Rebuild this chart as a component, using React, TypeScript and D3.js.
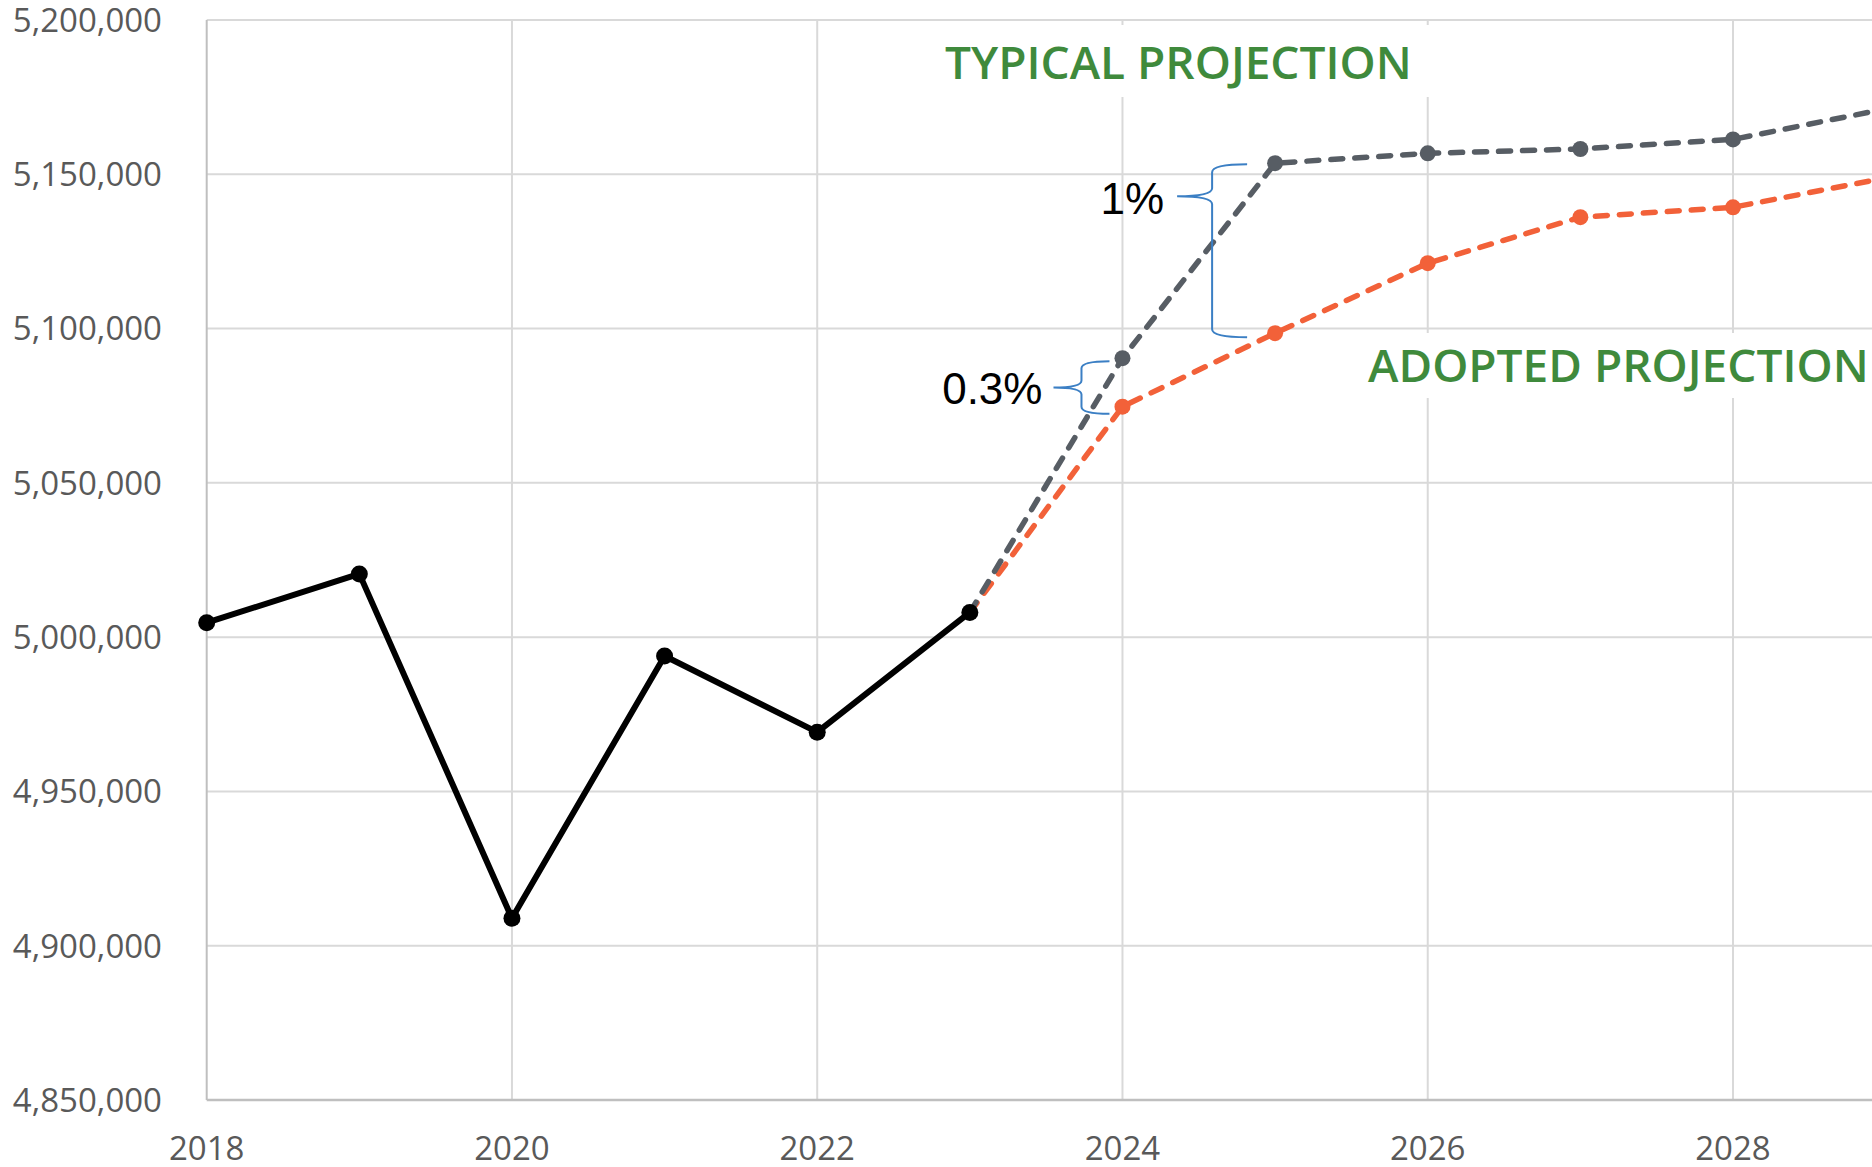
import React, { useEffect, useRef } from "react";
import * as d3 from "d3";

// historical population
const histYears = [2018, 2019, 2020, 2021, 2022, 2023];
const histValues = [5004700, 5020500, 4908900, 4993900, 4969200, 5008000];

// projections start from the last actual value (2023)
const projYears = [2023, 2024, 2025, 2026, 2027, 2028, 2029];
const typicalValues = [5008000, 5090400, 5153600, 5156800, 5158200, 5161300, 5171200];
const adoptedValues = [5008000, 5074700, 5098500, 5121200, 5136100, 5139300, 5148800];

const yTicks = [4850000, 4900000, 4950000, 5000000, 5050000, 5100000, 5150000, 5200000];
const xTicks = [2018, 2020, 2022, 2024, 2026, 2028];

const W = 1872;
const H = 1167;

const App = () => {
  const ref = useRef<SVGSVGElement>(null);

  useEffect(() => {
    const svg = d3.select(ref.current);
    svg.selectAll("*").remove();

    const left = 206.7;
    const top = 20;
    const bottom = 1100;
    const perYear = 152.63;

    const x = d3.scaleLinear().domain([2018, 2029]).range([left, left + 11 * perYear]);
    const y = d3.scaleLinear().domain([4850000, 5200000]).range([bottom, top]);

    const grid = svg.append("g");
    grid
      .selectAll("line.h")
      .data(yTicks.slice(1))
      .enter()
      .append("line")
      .attr("x1", left)
      .attr("x2", W)
      .attr("y1", (d) => y(d))
      .attr("y2", (d) => y(d))
      .attr("stroke", "#d9d9d9")
      .attr("stroke-width", 2);
    grid
      .selectAll("line.v")
      .data(xTicks.slice(1))
      .enter()
      .append("line")
      .attr("x1", (d) => x(d))
      .attr("x2", (d) => x(d))
      .attr("y1", top)
      .attr("y2", bottom)
      .attr("stroke", "#d9d9d9")
      .attr("stroke-width", 2);

    // axis lines
    svg
      .append("line")
      .attr("x1", left)
      .attr("x2", left)
      .attr("y1", top)
      .attr("y2", bottom)
      .attr("stroke", "#bfbfbf")
      .attr("stroke-width", 2);
    svg
      .append("line")
      .attr("x1", left)
      .attr("x2", W)
      .attr("y1", bottom)
      .attr("y2", bottom)
      .attr("stroke", "#bfbfbf")
      .attr("stroke-width", 2.5);

    // tick labels
    const fmt = d3.format(",");
    svg
      .selectAll("text.yl")
      .data(yTicks)
      .enter()
      .append("text")
      .attr("x", 162)
      .attr("y", (d) => y(d))
      .attr("dy", "0.36em")
      .attr("text-anchor", "end")
      .style("font-family", "'Open Sans', sans-serif")
      .style("font-size", "33px")
      .attr("fill", "#595959")
      .text((d) => fmt(d));
    svg
      .selectAll("text.xl")
      .data(xTicks)
      .enter()
      .append("text")
      .attr("x", (d) => x(d))
      .attr("y", 1160)
      .attr("text-anchor", "middle")
      .style("font-family", "'Open Sans', sans-serif")
      .style("font-size", "33px")
      .attr("fill", "#595959")
      .text((d) => d);

    // label backgrounds (hide the gridlines behind the labels)
    svg.append("rect").attr("x", 930).attr("y", 25).attr("width", 502).attr("height", 72).attr("fill", "#fff");
    svg.append("rect").attr("x", 1355).attr("y", 333).attr("width", 530).attr("height", 65).attr("fill", "#fff");

    const line = d3
      .line<number>()
      .x((d, i) => x(projYears[i]))
      .y((d) => y(d));

    const series = [
      { values: adoptedValues, color: "#f26139" },
      { values: typicalValues, color: "#575d64" },
    ];

    series.forEach((s) => {
      svg
        .append("path")
        .attr("d", line(s.values))
        .attr("fill", "none")
        .attr("stroke", s.color)
        .attr("stroke-width", 5.5)
        .attr("stroke-linecap", "round")
        .attr("stroke-dasharray", "12 12");
      svg
        .selectAll(null)
        .data(s.values.slice(1))
        .enter()
        .append("circle")
        .attr("cx", (d, i) => x(projYears[i + 1]))
        .attr("cy", (d) => y(d))
        .attr("r", 8)
        .attr("fill", s.color);
    });

    const histLine = d3
      .line<number>()
      .x((d, i) => x(histYears[i]))
      .y((d) => y(d));
    svg
      .append("path")
      .attr("d", histLine(histValues))
      .attr("fill", "none")
      .attr("stroke", "#000")
      .attr("stroke-width", 6)
      .attr("stroke-linejoin", "round");
    svg
      .selectAll("circle.h")
      .data(histValues)
      .enter()
      .append("circle")
      .attr("cx", (d, i) => x(histYears[i]))
      .attr("cy", (d) => y(d))
      .attr("r", 8.5)
      .attr("fill", "#000");

    // curly braces showing the gap between the projections
    const brace = (xArm: number, xSpine: number, xTip: number, yTop: number, yBot: number, yMid: number, r: number) =>
      `M${xArm},${yTop} Q${xSpine},${yTop} ${xSpine},${yTop + r} ` +
      `L${xSpine},${yMid - r} Q${xSpine},${yMid} ${xTip},${yMid} ` +
      `Q${xSpine},${yMid} ${xSpine},${yMid + r} ` +
      `L${xSpine},${yBot - r} Q${xSpine},${yBot} ${xArm},${yBot}`;

    const idx25 = projYears.indexOf(2025);
    const idx24 = projYears.indexOf(2024);
    const x25 = x(2025);
    const x24 = x(2024);

    // 1% brace: tip sits near the top, next to its label
    const b1Top = y(typicalValues[idx25]) + 1;
    const b1Bot = y(adoptedValues[idx25]) + 4;
    svg
      .append("path")
      .attr("d", brace(x25 - 28, x25 - 63, x25 - 98, b1Top, b1Bot, b1Top + 32, 8))
      .attr("fill", "none")
      .attr("stroke", "#3b7fc4")
      .attr("stroke-width", 2);

    const b2Top = y(typicalValues[idx24]) + 3;
    const b2Bot = y(adoptedValues[idx24]) + 7;
    svg
      .append("path")
      .attr("d", brace(x24 - 13, x24 - 41, x24 - 69, b2Top, b2Bot, (b2Top + b2Bot) / 2, 7))
      .attr("fill", "none")
      .attr("stroke", "#3b7fc4")
      .attr("stroke-width", 2);

    svg
      .append("text")
      .attr("x", x25 - 111)
      .attr("y", 214)
      .attr("text-anchor", "end")
      .style("font-family", "'Liberation Sans', Arial, sans-serif")
      .style("font-size", "44px")
      .attr("fill", "#000")
      .text("1%");
    svg
      .append("text")
      .attr("x", x24 - 80)
      .attr("y", 404)
      .attr("text-anchor", "end")
      .style("font-family", "'Liberation Sans', Arial, sans-serif")
      .style("font-size", "44px")
      .attr("fill", "#000")
      .text("0.3%");

    svg
      .append("text")
      .attr("x", 945)
      .attr("y", 79)
      .style("font-family", "'Open Sans', sans-serif")
      .style("font-size", "46px")
      .style("font-weight", 600)
      .attr("fill", "#3f8a3c")
      .text("TYPICAL PROJECTION");
    svg
      .append("text")
      .attr("x", 1368)
      .attr("y", 382)
      .style("font-family", "'Open Sans', sans-serif")
      .style("font-size", "46px")
      .style("font-weight", 600)
      .attr("fill", "#3f8a3c")
      .text("ADOPTED PROJECTION");
  }, []);

  return (
    <div style={{ position: "absolute", left: 0, top: 0 }}>
      <svg ref={ref} width={W} height={H} style={{ display: "block", background: "#fff" }}></svg>
    </div>
  );
};

export default App;
